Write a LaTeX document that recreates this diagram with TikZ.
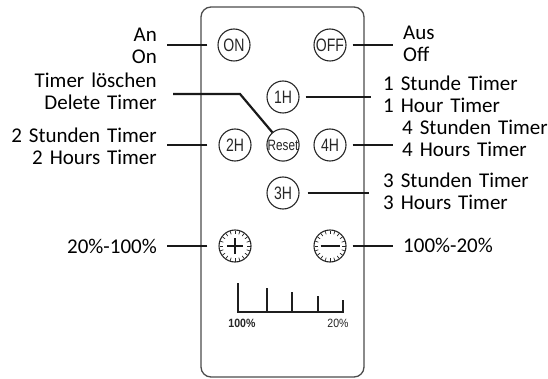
\documentclass[tikz,border=0pt]{standalone}
\usepackage{fontspec}
\setmainfont{Carlito}
\newfontfamily\btnfont[FakeStretch=0.78]{Liberation Sans}
\newfontfamily\smallsansfont[FakeStretch=0.88]{Liberation Sans}
\usetikzlibrary{calc}
\begin{document}
\begin{tikzpicture}[x=1pt,y=-1pt,
  btn/.style={circle, draw=black!85, line width=1.1pt, minimum size=32pt, inner sep=0pt,
    font=\btnfont\fontsize{18}{18}\selectfont, text=black!85},
  dial/.style={circle, draw=black!85, line width=1.1pt, minimum size=32pt, inner sep=0pt},
  conn/.style={line width=2.4pt, black!90},
  tickmark/.style={line width=0.7pt, black!85},
  lblL/.style={anchor=base east, inner sep=0pt, text width=170pt, align=right,
    font=\fontsize{21}{21.5}\selectfont},
  lblR/.style={anchor=base west, inner sep=0pt, text width=170pt, align=left,
    font=\fontsize{21}{21.5}\selectfont},
  bar/.style={line width=2pt, black!88},
  scalelbl/.style={anchor=base, inner sep=0pt, font=\smallsansfont\fontsize{12}{12}\selectfont, text=black!85}
]
\useasboundingbox (0,0) rectangle (548,379);
% remote body
\draw[black!70, line width=1.3pt, rounded corners=10pt] (201,7) rectangle (364,377);
% buttons
\node[btn] (on) at (234,45) {ON};
\node[btn] (off) at (330,45) {OFF};
\node[btn] (h1) at (283,97) {1H};
\node[btn] (h2) at (235,145) {2H};
\node[btn, font=\btnfont\fontsize{15}{15}\selectfont] (reset) at (283,145) {Reset};
\node[btn] (h4) at (330,145) {4H};
\node[btn] (h3) at (283,193) {3H};
\node[dial] (plus) at (235,246) {};
\node[dial] (minus) at (330,246) {};
\foreach \n in {plus,minus}{
  \foreach \a in {0,18,...,342}{
    \draw[tickmark] (\n) ++(\a:12.3) -- ++(\a:3.2);
  }
}
\draw[line width=2.6pt, black!90] ([xshift=-8pt]plus.center) -- ([xshift=8pt]plus.center);
\draw[line width=2.6pt, black!90] ([yshift=-8pt]plus.center) -- ([yshift=8pt]plus.center);
\draw[line width=2.8pt, black!90] ([xshift=-9.5pt]minus.center) -- ([xshift=9.5pt]minus.center);
% labels
\node[lblL] (lOn) at (157,41.7) {An\\On};
\node[lblL] (lReset) at (157,88) {Timer löschen\\Delete Timer};
\node[lblL] (l2) at (157,143) {2 Stunden Timer\\2 Hours Timer};
\node[lblL] (lPlus) at (157,253) {20\%-100\%};
\node[lblR] (lOff) at (403,40) {Aus\\Off};
\node[lblR] (l1) at (383,91) {1 Stunde Timer\\1 Hour Timer};
\node[lblR] (l4) at (402,135) {4 Stunden Timer\\4 Hours Timer};
\node[lblR] (l3) at (383,188) {3 Stunden Timer\\3 Hours Timer};
\node[lblR] (lMinus) at (403,252) {100\%-20\%};
% connectors
\draw[conn] ([xshift=-10pt]on.west) -- ++(-40,0);
\draw[conn] ([xshift=6pt]off.east) -- ++(40,0);
\draw[conn] ([xshift=6pt]h1.east) -- ++(65,0);
\draw[conn] ([xshift=-11pt]h2.west) -- ++(-40,0);
\draw[conn] ([xshift=6pt]h4.east) -- ++(40,0);
\draw[conn] ([xshift=8pt]h3.east) -- ++(61,0);
\draw[conn] ([xshift=-11pt]plus.west) -- ++(-40,0);
\draw[conn] ([xshift=6pt]minus.east) -- ++(40,0);
\coordinate (bend) at (240,94);
\draw[conn, line width=2.2pt] (reset) -- (bend) -- ++(-67,0);
% level scale
\draw[bar] (238,283) -- (238,312) -- (343,312) -- (343,300);
\draw[bar] (267,312) -- (267,288);
\draw[bar] (292,312) -- (292,292);
\draw[bar] (318,312) -- (318,296);
\node[scalelbl, font=\smallsansfont\bfseries\fontsize{12}{12}\selectfont] (p100) at (242,327) {100\%};
\node[scalelbl] (p20) at (338,327) {20\%};
\end{tikzpicture}
\end{document}
